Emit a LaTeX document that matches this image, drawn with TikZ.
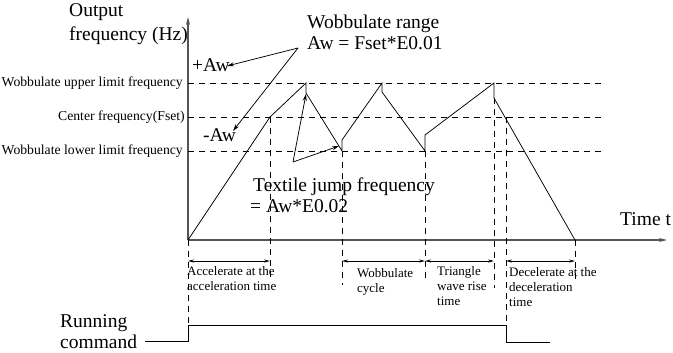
\documentclass[tikz,border=0pt]{standalone}
\usepackage{fontspec}
\setmainfont{Liberation Serif}
\usepackage{tikz}
\usetikzlibrary{arrows.meta, positioning}
\definecolor{axisgray}{RGB}{85,85,85}
\tikzset{
  curve/.style={line width=0.75pt, black},
  axis/.style={-{Stealth[length=8pt,width=4pt]}, line width=1.2pt, color=axisgray},
  guide/.style={dash pattern=on 6pt off 5pt, line width=0.75pt, black},
  dimarrow/.style={{Stealth[length=6pt,width=3pt]}-{Stealth[length=6pt,width=3pt]}, line width=0.75pt},
  pointer/.style={-{Stealth[length=7pt,width=4pt]}, line width=0.75pt},
  bigtext/.style={font=\fontsize{19.5}{21}\selectfont, inner sep=0pt, align=left},
  smalltext/.style={font=\fontsize{13}{15}\selectfont, inner sep=0pt, align=left},
  levellbl/.style={font=\fontsize{13.7}{15}\selectfont, inner sep=0pt, anchor=east},
  signal/.style={line width=0.75pt, black}
}
\begin{document}
\begin{tikzpicture}[x=1pt, y=-1pt]
  \useasboundingbox (0,0) rectangle (673,353);

  % axes
  \coordinate (O) at (188,240);
  \coordinate (ytop) at (188,17);
  \coordinate (xend) at (667,240);
  \draw[axis] (O) -- (ytop);
  \draw[axis] (O) -- (xend);

  % frequency levels
  \node[levellbl] (upperlbl) at (183,83) {Wobbulate upper limit frequency};
  \node[levellbl] (centerlbl) at (185,117) {Center frequency(Fset)};
  \node[levellbl] (lowerlbl) at (183,151) {Wobbulate lower limit frequency};
  \coordinate (yu) at (188,83);
  \coordinate (yc) at (188,117);
  \coordinate (yl) at (188,151);
  \coordinate (yu2) at (603,83);
  \coordinate (yc2) at (603,117);
  \coordinate (yl2) at (603,151);
  \draw[guide] (yu) -- (yu2);
  \draw[guide] (yc) -- (yc2);
  \draw[guide] (yl) -- (yl2);

  % output frequency curve
  \coordinate (c1) at (270,117);
  \coordinate (c2) at (306,83);
  \coordinate (c3) at (306,93);
  \coordinate (c4) at (342,151);
  \coordinate (c5) at (342,140);
  \coordinate (c6) at (382,83);
  \coordinate (c7) at (382,92);
  \coordinate (c8) at (425,151);
  \coordinate (c9) at (425,135);
  \coordinate (c10) at (494,83);
  \coordinate (c11) at (494,98);
  \coordinate (c12) at (575,240);
  \coordinate (dc) at (506,117);
  \draw[curve] (O) -- (c1) -- (c2) -- (c3) -- (c4) -- (c5) -- (c6) -- (c7)
    -- (c8) -- (c9) -- (c10) -- (c11) -- (c12);

  % guide lines down to the time spans
  \coordinate (g0) at (188,325);
  \coordinate (g1) at (270,282);
  \coordinate (g2) at (342,285);
  \coordinate (g3) at (425,282);
  \coordinate (g4) at (494,288);
  \coordinate (g5) at (506,325);
  \coordinate (g6) at (575,282);
  \draw[guide] (O) -- (g0);
  \draw[guide] (c1) -- (g1);
  \draw[guide] (c4) -- (g2);
  \draw[guide] (c8) -- (g3);
  \draw[guide] (c11) -- (g4);
  \draw[guide] (dc) -- (g5);
  \draw[guide] (c12) -- (g6);

  % time spans
  \coordinate (d0) at (188,261);
  \coordinate (d1) at (270,261);
  \coordinate (d2) at (342,261);
  \coordinate (d3) at (425,261);
  \coordinate (d4) at (494,261);
  \coordinate (d5) at (506,261);
  \coordinate (d6) at (575,261);
  \draw[dimarrow] (d0) -- (d1);
  \draw[dimarrow] (d2) -- (d3);
  \draw[dimarrow] (d3) -- (d4);
  \draw[dimarrow] (d5) -- (d6);
  \node[smalltext, anchor=base west] (acclbl) at (187,290) {Accelerate at the\\acceleration time};
  \node[smalltext, anchor=base west] (cyclelbl) at (357,292) {Wobbulate\\cycle};
  \node[smalltext, anchor=base west] (riselbl) at (437,305) {Triangle\\wave rise\\time};
  \node[smalltext, anchor=base west] (declbl) at (509,306) {Decelerate at the\\deceleration\\time};

  % running command
  \coordinate (r0) at (145,341);
  \coordinate (r1) at (188,341);
  \coordinate (r2) at (506,325);
  \coordinate (r3) at (506,342);
  \coordinate (r4) at (550,342);
  \draw[signal] (r0) -- (r1) -- (g0) -- (r2) -- (r3) -- (r4);
  \node[bigtext, anchor=base west] (runlbl) at (60,348) {Running\\command};

  % annotations
  \node[bigtext, anchor=base west, font=\fontsize{19.5}{24}\selectfont] (ylbl) at (69,41) {Output\\frequency (Hz)};
  \node[bigtext, anchor=base west] (xlbl) at (620,225) {Time t};
  \node[bigtext, anchor=base west] (rangelbl) at (307,50) {Wobbulate range\\Aw = Fset*E0.01};
  \node[bigtext, anchor=base west] (pluslbl) at (192,72) {+Aw};
  \node[bigtext, anchor=base west] (minuslbl) at (203,142) {-Aw};
  \node[bigtext, anchor=base west] (jumplbl) at (250,212) {\hspace*{3pt}Textile jump frequency\\= Aw*E0.02};
  \coordinate (rangetip) at (298,48);
  \coordinate (plustip) at (227,66);
  \coordinate (minustip) at (233,131);
  \draw[pointer] (rangetip) -- (plustip);
  \draw[pointer] (rangetip) -- (minustip);
  \coordinate (jumptip) at (293,162);
  \coordinate (jumpup) at (306,94);
  \coordinate (jumplow) at (339,146);
  \draw[pointer] (jumptip) -- (jumpup);
  \draw[pointer] (jumptip) -- (jumplow);
\end{tikzpicture}
\end{document}
